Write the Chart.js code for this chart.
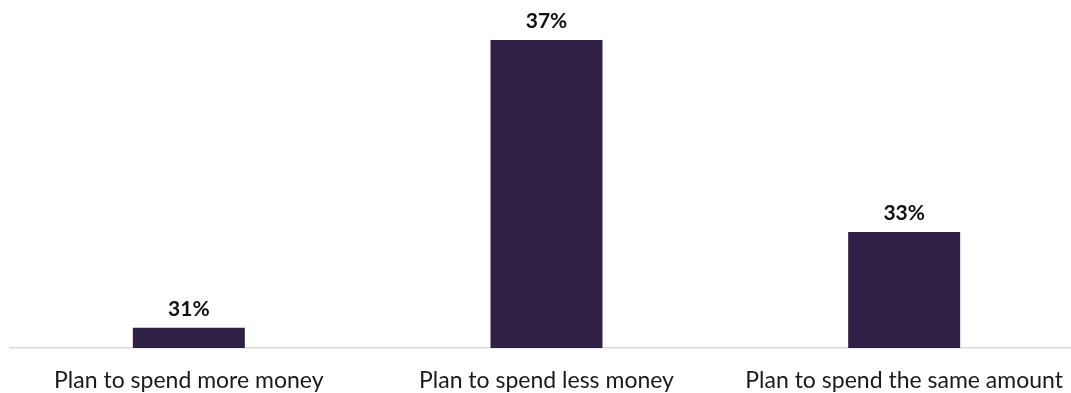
<!DOCTYPE html>
<html>
<head>
<meta charset="utf-8">
<script src="https://cdn.jsdelivr.net/npm/chart.js@4/dist/chart.umd.min.js"></script>
<style>
  html, body { margin: 0; padding: 0; background: #fff; overflow: hidden; }
  #wrap { width: 1083px; height: 393px; position: relative; }
</style>
</head>
<body>
<div id="wrap"><canvas id="chart"></canvas></div>
<script>
const categories = ['Plan to spend more money', 'Plan to spend less money', 'Plan to spend the same amount'];
const shares = [31, 37, 33];
const valueLabels = ['31%', '37%', '33%'];

// Writes each bar's value above it
const valueLabelPlugin = {
  id: 'valueLabels',
  afterDatasetsDraw(chart) {
    const ctx = chart.ctx;
    const meta = chart.getDatasetMeta(0);
    ctx.save();
    ctx.font = 'bold 21px Lato, "Open Sans", sans-serif';
    ctx.fillStyle = '#111';
    ctx.textAlign = 'center';
    ctx.textBaseline = 'bottom';
    meta.data.forEach((bar, i) => {
      ctx.fillText(valueLabels[i], bar.x, bar.y - 8);
    });
    ctx.restore();
  }
};

new Chart(document.getElementById('chart'), {
  type: 'bar',
  data: {
    labels: categories,
    datasets: [{
      data: shares,
      backgroundColor: '#2f2145',
      borderWidth: 0,
      barPercentage: 0.62,
      categoryPercentage: 0.505
    }]
  },
  options: {
    responsive: true,
    maintainAspectRatio: false,
    animation: false,
    layout: { padding: { top: 40, left: 10, right: 0, bottom: 0 } },
    plugins: { legend: { display: false }, tooltip: { enabled: false } },
    scales: {
      x: {
        grid: { display: false },
        border: { display: true, color: '#d9d9d9', width: 1.5 },
        afterFit(scale) { scale.height = 45; },
        ticks: {
          color: '#1a1a1a',
          padding: 11,
          maxRotation: 0,
          autoSkip: false,
          font: { family: 'Lato, "Open Sans", sans-serif', size: 23 }
        }
      },
      y: {
        display: false,
        min: 30.58,
        max: 37
      }
    }
  },
  plugins: [valueLabelPlugin]
});
</script>
</body>
</html>
